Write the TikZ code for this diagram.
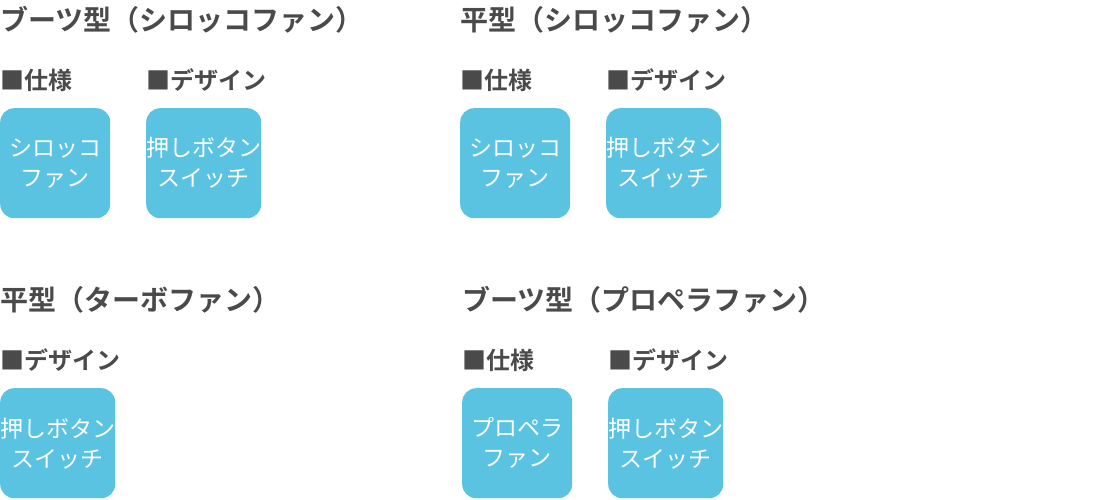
\documentclass[tikz,border=0pt]{standalone}
\usepackage{fontspec}
\newfontfamily\jp{Noto Sans CJK JP}
\newfontfamily\jpb{Noto Sans CJK JP Bold}
\definecolor{bx}{HTML}{5BC3E2}
\definecolor{hd}{HTML}{4A4A4A}
\tikzset{
 head/.style={anchor=west,inner sep=0pt,text=hd,font=\jpb\fontsize{28}{30}\selectfont},
 sub/.style={anchor=west,inner sep=0pt,text=hd,font=\jpb\fontsize{24}{26}\selectfont},
 box/.style={anchor=north west,fill=bx,rounded corners=14pt,minimum width=110pt,minimum height=110pt,inner sep=0pt,text=white,align=center,font=\jp\fontsize{23}{30}\selectfont}
}
\begin{document}
\begin{tikzpicture}[x=1pt,y=-1pt]
\useasboundingbox (0,0) rectangle (1100,500);
\node[head] (h1) at (0,20) {ブーツ型（シロッコファン）};
\node[head] (h2) at (460,20) {平型（シロッコファン）};
\node[head] (h3) at (0,300) {平型（ターボファン）};
\node[head] (h4) at (462,300) {ブーツ型（プロペラファン）};
\node[sub] (s1) at (0,80) {■仕様};
\node[sub] (s2) at (146,80) {■デザイン};
\node[sub] (s3) at (460,80) {■仕様};
\node[sub] (s4) at (606,80) {■デザイン};
\node[sub] (s5) at (0,360) {■デザイン};
\node[sub] (s6) at (462,360) {■仕様};
\node[sub] (s7) at (608,360) {■デザイン};
\node[box] (b1) at (0,108) {シロッコ\\ファン};
\node[box] (b2) at (146,108) {押しボタン\\スイッチ};
\node[box] (b3) at (460,108) {シロッコ\\ファン};
\node[box] (b4) at (606,108) {押しボタン\\スイッチ};
\node[box] (b5) at (0,388) {押しボタン\\スイッチ};
\node[box] (b6) at (462,388) {プロペラ\\ファン};
\node[box] (b7) at (608,388) {押しボタン\\スイッチ};
\end{tikzpicture}
\end{document}
